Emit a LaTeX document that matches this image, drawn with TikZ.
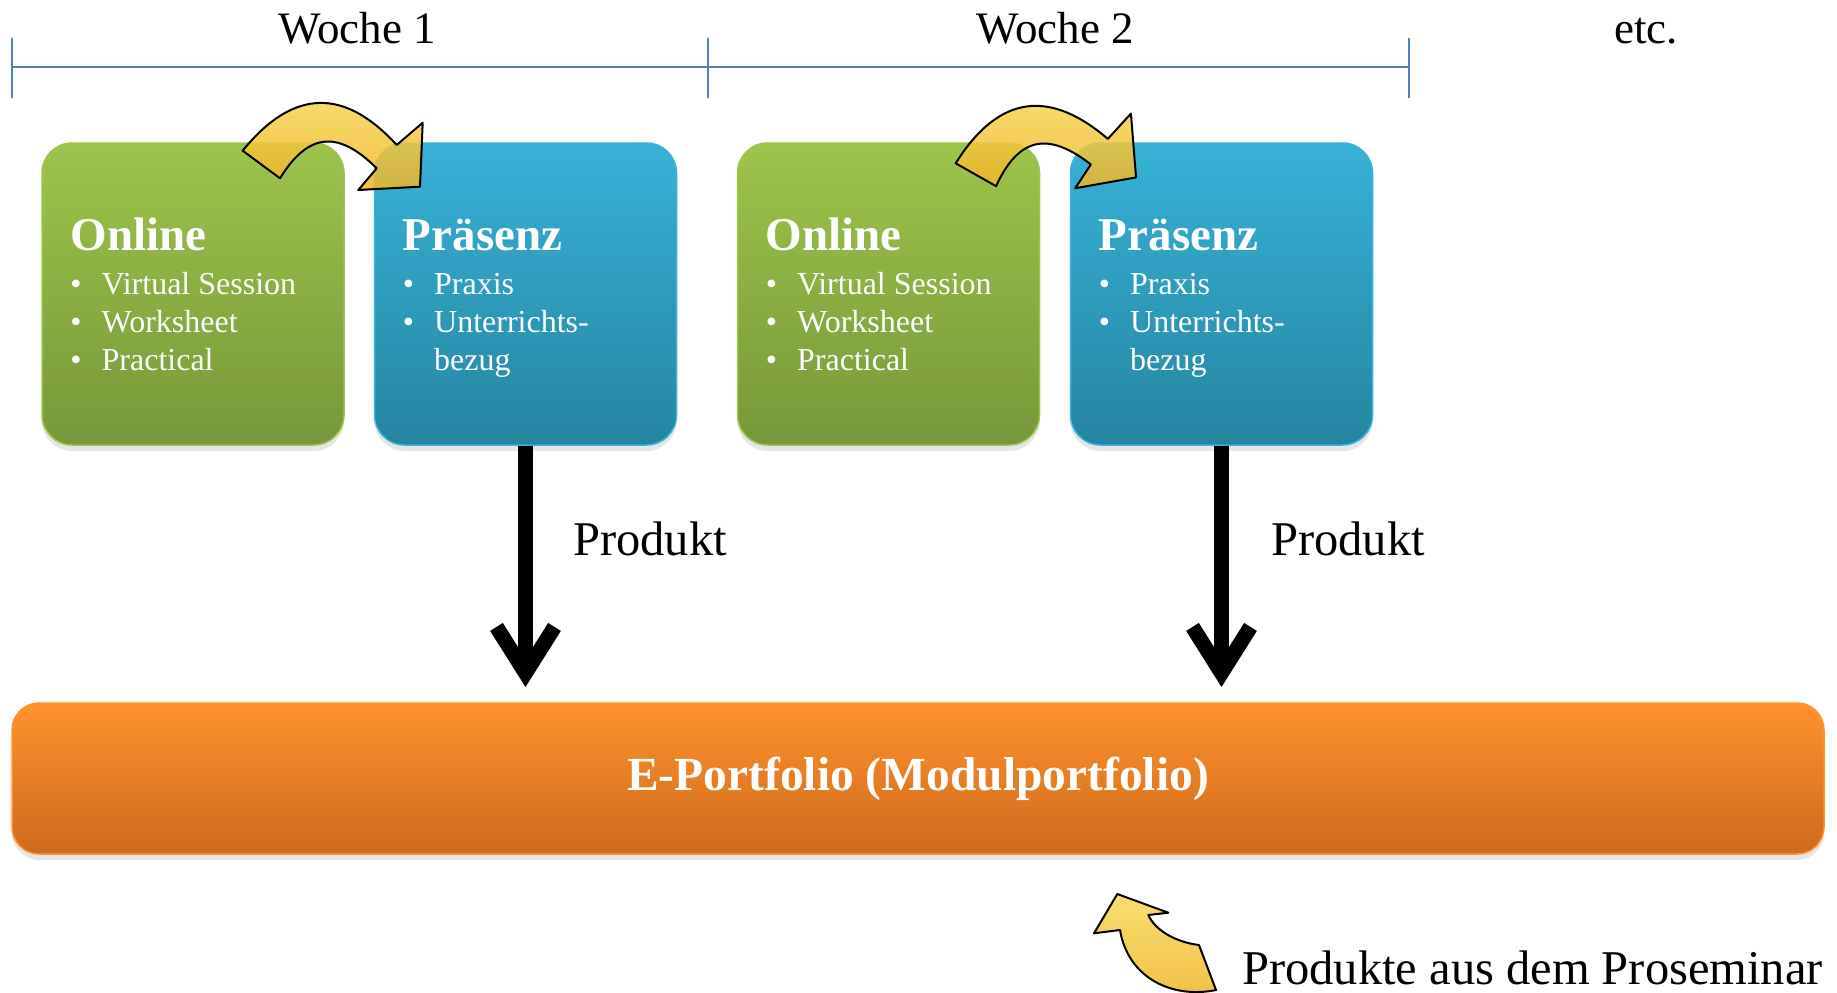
\documentclass[tikz,border=0pt]{standalone}
\usepackage{fontspec}
\setmainfont{Liberation Serif}
\usetikzlibrary{arrows.meta,shadows,calc}

\definecolor{weekline}{HTML}{4F81BD}
\definecolor{greentop}{HTML}{9DC44B}
\definecolor{greenbot}{HTML}{76983A}
\definecolor{bluetop}{HTML}{37B2D8}
\definecolor{bluebot}{HTML}{2585A0}
\definecolor{orangetop}{HTML}{FF922C}
\definecolor{orangebot}{HTML}{CE6A1E}
\definecolor{hoplight}{HTML}{F9D857}
\definecolor{hopdark}{HTML}{F0B526}

\tikzset{
    card/.style={rounded corners=30pt, minimum width=302pt, minimum height=302pt, line width=1.5pt,
        drop shadow={shadow xshift=0pt, shadow yshift=-6pt, opacity=0.2}},
    onlinebox/.style={card, draw=greentop, top color=greentop, bottom color=greenbot},
    praesenzbox/.style={card, draw=bluetop, top color=bluetop, bottom color=bluebot},
    heading/.style={text=white, font=\fontsize{47}{50}\selectfont\bfseries, anchor=base west, inner sep=0pt},
    items/.style={text=white, font=\fontsize{32}{38}\selectfont, anchor=base west, inner sep=0pt},
    weektext/.style={font=\fontsize{45}{50}\selectfont, anchor=base, inner sep=0pt},
    produkttext/.style={font=\fontsize{48.5}{54}\selectfont, anchor=base west, inner sep=0pt},
    hopfill/.style={draw=black, line width=2pt, line join=round, top color=hoplight, bottom color=hopdark, fill opacity=0.85},
    bigarrow/.style={line width=15pt, -{Straight Barb[length=46pt, width=58pt]}},
    hoparrow/.pic={
        \path[hopfill] (-87.3,2.7) .. controls (-35.5,-61.3) and (15.8,-58.8) .. (66.7,-3)
            -- (92.7,-25.3) -- (90,38.7) -- (28.3,42) -- (46.7,20.3)
            .. controls (9,-17.2) and (-21.1,-16.6) .. (-50,30.3) -- cycle;
    }
}

\begin{document}
\begin{tikzpicture}[x=1pt, y=-1pt]
    \useasboundingbox (0,0) rectangle (1837,993);

    \coordinate (w0) at (12,67);
    \coordinate (w1) at (708,67);
    \coordinate (w2) at (1409,67);
    \draw[weekline, line width=1.6pt] (w0) -- (w2);
    \foreach \t in {w0,w1,w2}
        \draw[weekline, line width=1.6pt] ($(\t)+(0,-29)$) -- ($(\t)+(0,31)$);
    \node[weektext] (wk1) at (357,43) {Woche 1};
    \node[weektext] (wk2) at (1055,43) {Woche 2};
    \node[weektext] (etc) at (1646,43) {etc.};

    \node[onlinebox] (on1) at (193,294) {};
    \node[praesenzbox] (pr1) at (525.5,294) {};
    \node[onlinebox] (on2) at (888.5,294) {};
    \node[praesenzbox] (pr2) at (1221.5,294) {};

    \foreach \b in {on1,on2} {
        \node[heading] (\b h) at ($(\b.north west)+(29,108)$) {Online};
        \node[items] (\b i) at ($(\b.north west)+(29,152)$) {\begin{tabular}[t]{@{}l@{\hspace{20pt}}l@{}}
            \textbullet & Virtual Session\\ \textbullet & Worksheet\\ \textbullet & Practical\end{tabular}};
    }
    \foreach \b in {pr1,pr2} {
        \node[heading] (\b h) at ($(\b.north west)+(29,108)$) {Präsenz};
        \node[items] (\b i) at ($(\b.north west)+(29,152)$) {\begin{tabular}[t]{@{}l@{\hspace{20pt}}l@{}}
            \textbullet & Praxis\\ \textbullet & Unterrichts-\\ & bezug\end{tabular}};
    }

    \pic at (330,148) {hoparrow};
    \pic[rotate=7] at (1042,150) {hoparrow};

    \coordinate (tip1) at (pr1.south |- 0,687);
    \coordinate (tip2) at (pr2.south |- 0,687);
    \draw[bigarrow] (pr1.south) -- (tip1);
    \draw[bigarrow] (pr2.south) -- (tip2);
    \node[produkttext] (pd1) at (573,555) {Produkt};
    \node[produkttext] (pd2) at (1271,555) {Produkt};

    \node[rounded corners=27pt, minimum width=1812pt, minimum height=151pt, line width=1.5pt,
        draw=orangetop, top color=orangetop, bottom color=orangebot,
        drop shadow={shadow xshift=0pt, shadow yshift=-6pt, opacity=0.2},
        text=white, font=\fontsize{47.5}{50}\selectfont\bfseries] (ep) at (918,778.5) {E-Portfolio (Modulportfolio)};

    \path[hopfill] (1117.3,894) -- (1094,933.3) -- (1120,930)
        .. controls (1128,978) and (1172,999) .. (1216,990) -- (1199,945)
        .. controls (1175,942) and (1155,930) .. (1148.3,915) -- (1168.3,912.7) -- cycle;
    \node[produkttext] (pros) at (1242,984) {Produkte aus dem Proseminar};
\end{tikzpicture}
\end{document}
